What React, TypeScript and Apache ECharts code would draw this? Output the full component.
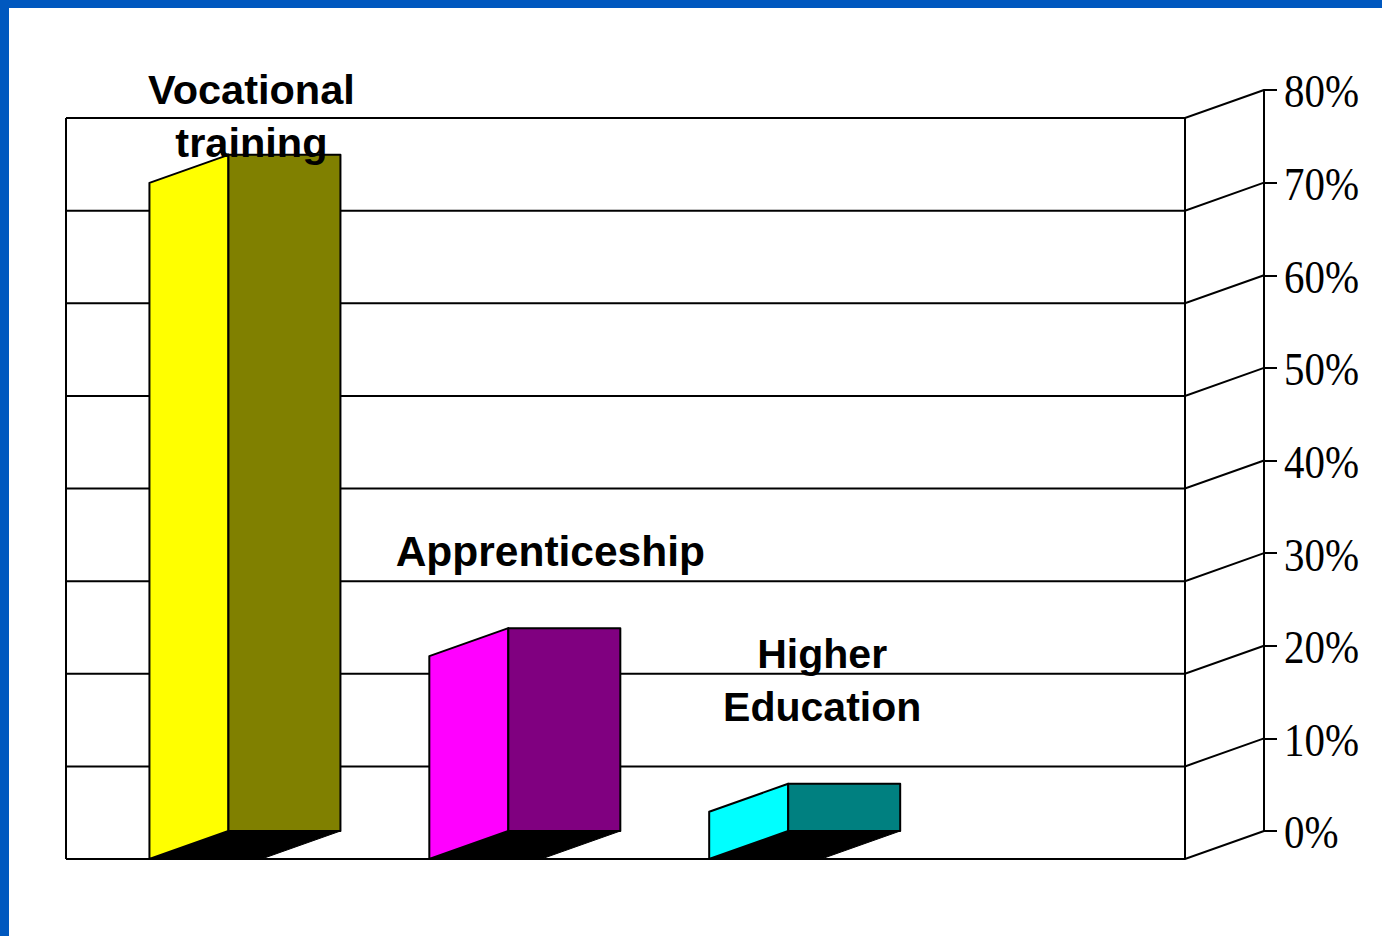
import React, { useEffect, useRef } from "react";
import * as echarts from "echarts";

const categories = ["Vocational\ntraining", "Apprenticeship", "Higher\nEducation", ""];
const shares = [73, 21.9, 5.1];
const yTicks = [0, 10, 20, 30, 40, 50, 60, 70, 80];
const yTickLabels = ["0%", "10%", "20%", "30%", "40%", "50%", "60%", "70%", "80%"];
const sideColors = ["#FFFF00", "#FF00FF", "#00FFFF"];
const faceColors = ["#808000", "#800080", "#008080"];

const labelDx = [-33, -14, -22];
const labelDy = [-39, -77, -103];
const labelFontSizes = [41.5, 42.5, 41];
const DEPTH_X = 79;
const DEPTH_Y = 28;
const BAR_W = 112;
const LINE = 2;

export default function App() {
  const ref = useRef<HTMLDivElement | null>(null);
  useEffect(() => {
    document.body.style.margin = "0";
    document.body.style.background = "#fff";
    const chart = echarts.init(ref.current!, undefined, { renderer: "svg" });
    const lineStyle = { stroke: "#000", lineWidth: LINE, fill: "none" };
    chart.setOption({
      animation: false,
      backgroundColor: "#fff",
      graphic: [
        { type: "rect", shape: { x: 0, y: 0, width: 1382, height: 8 }, style: { fill: "#0058BF" }, silent: true },
        { type: "rect", shape: { x: 0, y: 0, width: 9, height: 936 }, style: { fill: "#0058BF" }, silent: true },
      ],
      grid: { left: 144.5, right: 118, top: 90, bottom: 105 },
      xAxis: { type: "category", data: categories, show: false },
      yAxis: {
        type: "value",
        position: "right",
        min: 0,
        max: 80,
        interval: 10,
        splitLine: { show: false },
        axisLine: { show: true, lineStyle: { color: "#000", width: LINE } },
        axisTick: { show: true, length: 13, lineStyle: { color: "#000", width: LINE } },
        axisLabel: { show: false },
      },
      series: [
        {
          type: "custom",
          z: 1,
          clip: false,
          silent: true,
          data: yTicks.map((v) => [0, v]),
          encode: { x: 0, y: 1 },
          renderItem(params: any, api: any) {
            const cs = params.coordSys;
            const y = api.coord([0, api.value(1)])[1];
            const left = cs.x - DEPTH_X + 0.5;
            const right = cs.x + cs.width - DEPTH_X;
            const back = cs.x + cs.width;
            const children: any[] = [
              {
                type: "polyline",
                shape: { points: [[left, y + DEPTH_Y], [right, y + DEPTH_Y], [back, y]] },
                style: lineStyle,
              },
              {
                type: "text",
                x: back + 20,
                y: y + 2,
                scaleX: 0.87,
                style: {
                  text: yTickLabels[params.dataIndex],
                  fill: "#000",
                  fontFamily: "Liberation Serif",
                  fontSize: 47,
                  align: "left",
                  verticalAlign: "middle",
                },
              },
            ];
            if (params.dataIndex === 0) {
              const top = cs.y + DEPTH_Y;
              const bottom = cs.y + cs.height + DEPTH_Y;
              children.push(
                { type: "line", shape: { x1: left, y1: top, x2: left, y2: bottom }, style: lineStyle },
                { type: "line", shape: { x1: right, y1: top, x2: right, y2: bottom }, style: lineStyle },
              );
            }
            return { type: "group", children };
          },
        },
        {
          type: "custom",
          z: 2,
          clip: false,
          silent: true,
          data: shares.map((v, i) => [i, v]),
          encode: { x: 0, y: 1 },
          renderItem(params: any, api: any) {
            const i = params.dataIndex;
            const [cx, top] = api.coord([i, api.value(1)]);
            const base = api.coord([i, 0])[1];
            const l = cx - BAR_W / 2;
            const r = cx + BAR_W / 2;
            const edge = { stroke: "#000", lineWidth: LINE, lineJoin: "round" };
            return {
              type: "group",
              children: [
                {
                  type: "polygon",
                  shape: { points: [[l - DEPTH_X, base + DEPTH_Y], [l, base], [r, base], [r - DEPTH_X, base + DEPTH_Y]] },
                  style: { fill: "#000", stroke: "#000", lineWidth: 1 },
                },
                {
                  type: "polygon",
                  shape: { points: [[l - DEPTH_X, base + DEPTH_Y], [l - DEPTH_X, top + DEPTH_Y], [l, top], [l, base]] },
                  style: { fill: sideColors[i], ...edge },
                },
                {
                  type: "rect",
                  shape: { x: l, y: top, width: BAR_W, height: base - top },
                  style: { fill: faceColors[i], ...edge },
                },
              ],
            };
          },
        },
        {
          type: "custom",
          z: 3,
          clip: false,
          silent: true,
          data: shares.map((v, i) => [i, v]),
          encode: { x: 0, y: 1 },
          renderItem(params: any, api: any) {
            const i = params.dataIndex;
            const [cx, top] = api.coord([i, api.value(1)]);
            return {
              type: "text",
              x: cx + labelDx[i],
              y: top + labelDy[i],
              style: {
                text: categories[i],
                fill: "#000",
                fontFamily: "Liberation Sans",
                fontWeight: "bold",
                fontSize: labelFontSizes[i],
                lineHeight: 53,
                align: "center",
                verticalAlign: "middle",
              },
            };
          },
        },
      ],
    });
    return () => chart.dispose();
  }, []);
  return <div ref={ref} style={{ width: 1382, height: 936 }} />;
}
